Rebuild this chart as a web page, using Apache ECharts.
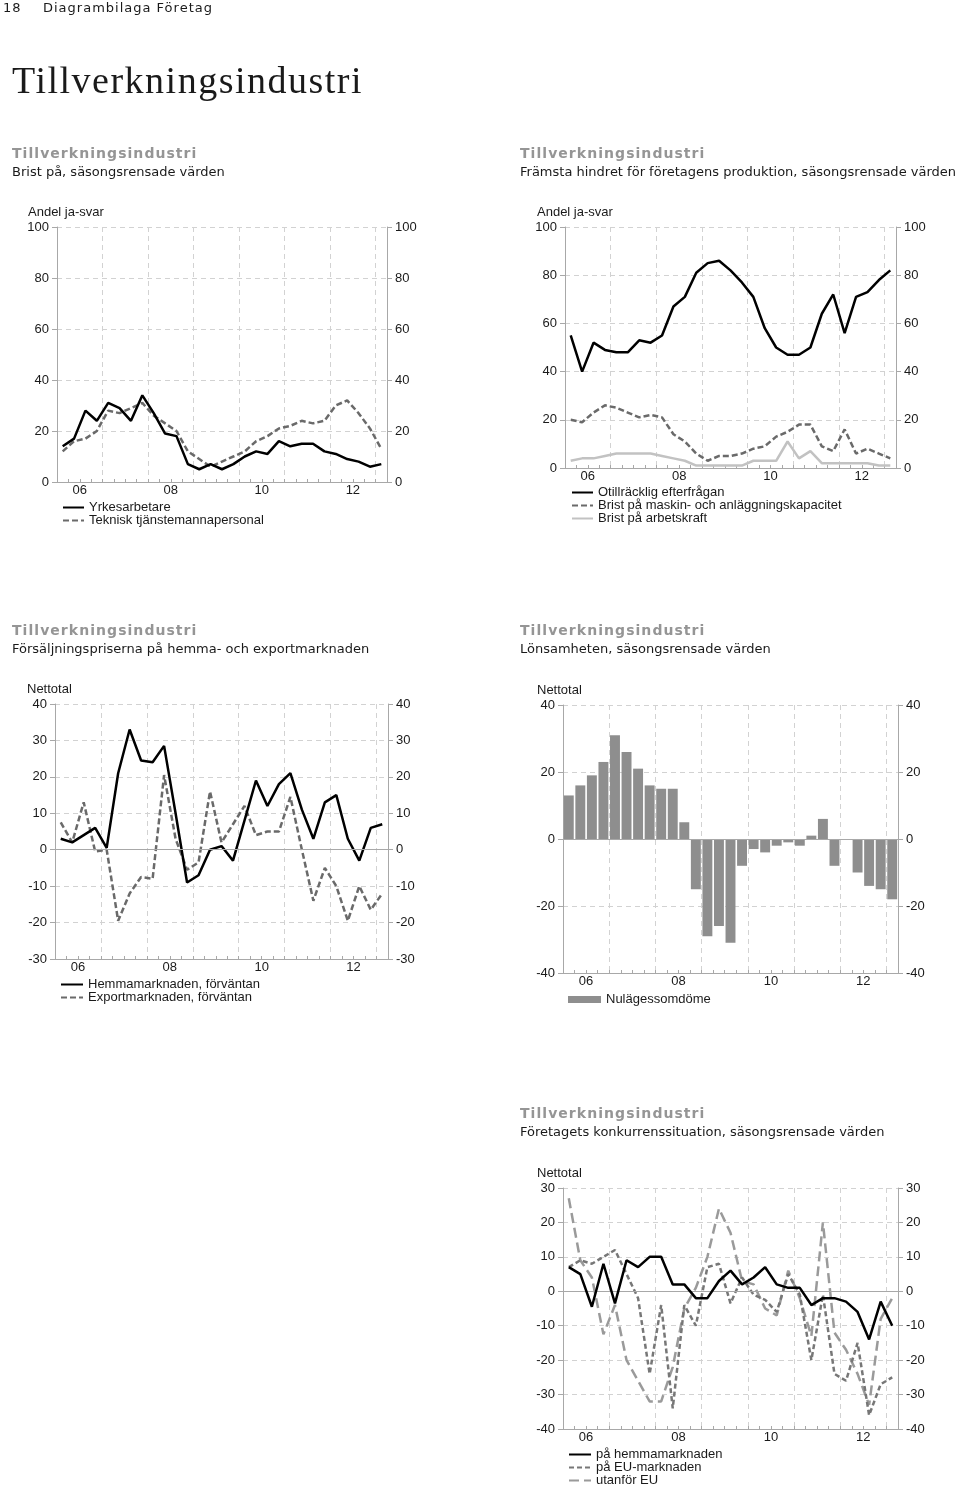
<!DOCTYPE html>
<html><head><meta charset="utf-8">
<script src="https://cdn.jsdelivr.net/npm/echarts@6/dist/echarts.min.js"></script>
<style>
html,body{margin:0;padding:0;background:#fff;width:960px;height:1490px;overflow:hidden}
#c{position:absolute;left:0;top:0;width:960px;height:1490px}
.t{position:absolute;white-space:nowrap;font-family:"DejaVu Sans",sans-serif;line-height:13px;font-size:13px;color:#1a1a1a;z-index:2}
.big{font-family:"Liberation Serif",serif;font-size:38px;line-height:38px;letter-spacing:1.5px;color:#1a1a1a}
.st{font-weight:bold;font-size:14px;line-height:14px;color:#959595;letter-spacing:1.05px}
.hd{letter-spacing:1px}
</style></head><body>
<div id="c"></div>
<div class="t hd" style="left:3px;top:1px">18</div>
<div class="t hd" style="left:43px;top:1px">Diagrambilaga Företag</div>
<div class="t big" style="left:12px;top:61px">Tillverkningsindustri</div>
<div class="t st" style="left:12px;top:146px">Tillverkningsindustri</div>
<div class="t" style="left:12px;top:165px">Brist på, säsongsrensade värden</div>
<div class="t st" style="left:520px;top:146px">Tillverkningsindustri</div>
<div class="t" style="left:520px;top:165px">Främsta hindret för företagens produktion, säsongsrensade värden</div>
<div class="t st" style="left:12px;top:623px">Tillverkningsindustri</div>
<div class="t" style="left:12px;top:642px">Försäljningspriserna på hemma- och exportmarknaden</div>
<div class="t st" style="left:520px;top:623px">Tillverkningsindustri</div>
<div class="t" style="left:520px;top:642px">Lönsamheten, säsongsrensade värden</div>
<div class="t st" style="left:520px;top:1106px">Tillverkningsindustri</div>
<div class="t" style="left:520px;top:1125px">Företagets konkurrenssituation, säsongsrensade värden</div>
<script>
// ---------- DATA ----------
const quarters = ['06K1','06K2','06K3','06K4','07K1','07K2','07K3','07K4','08K1','08K2','08K3','08K4',
  '09K1','09K2','09K3','09K4','10K1','10K2','10K3','10K4','11K1','11K2','11K3','11K4',
  '12K1','12K2','12K3','12K4','13K1'];
const yearTickLabels = ['06','08','10','12'];

// Chart 1: Brist på
const yrkesarbetare = [14,17,28,24,31,29,24,34,27,19,18,7,5,7,5,7,10,12,11,16,14,15,15,12,11,9,8,6,7];
const tekniskPersonal = [12,16,17,20,28,27,29,31,26,23,20,12,9,6,8,10,12,16,18,21,22,24,23,24,30,32,27,21,13];

// Chart 2: Främsta hindret
const otillrackligEfterfragan = [55,40,52,49,48,48,53,52,55,67,71,81,85,86,82,77,71,58,50,47,47,50,64,72,56,71,73,78,82];
const bristMaskin = [20,19,23,26,25,23,21,22,21,14,11,6,3,5,5,6,8,9,13,15,18,18,9,7,16,6,8,6,4];
const bristArbetskraft = [3,4,4,5,6,6,6,6,5,4,3,1,1,1,1,1,3,3,3,11,4,7,2,2,2,2,2,1,1];

// Chart 3: Försäljningspriser
const hemmaForvantan = [3,2,4,6,0.5,21,33,24.5,24,28.5,10,-9,-7,0,1,-3,8,19,12,18,21,11,3,13,15,3,-3,6,7];
const exportForvantan = [7.5,2,13,-0.5,0,-19.5,-12,-7.5,-8,20.5,3,-5.5,-3.5,16,2,7,12,4,5,5,14.5,0,-14,-5,-10,-19.5,-10,-16.5,-12];

// Chart 4: Lönsamheten
const nulagesomdome = [13,16,19,23,31,26,21,16,15,15,5,-15,-29,-26,-31,-8,-3,-4,-2,-1,-2,1,6,-8,0,-10,-14,-15,-18];

// Chart 5: Konkurrenssituation
const konkHemma = [7,5,-4.5,8,-3.5,9,7,10,10,2,2,-2,-2,3,6,2,4,7,2,1,1,-4,-2,-2,-3,-6,-14,-3,-10];
const konkEU = [7,9,8,10,12,5,-2,-24,-4,-34,-4,-10,7,8,-3.5,4,-1,-2.5,-6,5,-1,-20,-1,-24,-26,-15,-36,-27,-25];
const konkUtanforEU = [27,9,4,-12.5,-4,-20,-26,-32,-32,-22,-5,1,10,24,17,3,2,-5,-7,6,-2,-13,20,-12,-17,-24,-33,-8,-2];

// ---------- CHART ----------
const FONT = 'Liberation Sans';
const AX = '#a8a8a8', GRIDC = '#d2d2d2', TXT = '#1a1a1a';
const chart = echarts.init(document.getElementById('c'), null, {renderer:'canvas'});

const grids = [
  {left:57, top:227, width:330, height:255},
  {left:565, top:227, width:331, height:241},
  {left:55, top:704, width:333, height:255},
  {left:563, top:705, width:335, height:268},
  {left:563, top:1188, width:335, height:241}
];
const yScales = [[0,100,20],[0,100,20],[-30,40,10],[-40,40,20],[-40,30,10]];

const xAxis = [], yAxis = [];
grids.forEach((g,i)=>{
  xAxis.push({
    type:'category', gridIndex:i, data:quarters, boundaryGap:true,
    axisLine:{onZero:false, lineStyle:{color:AX,width:1}},
    axisTick:{show:true, inside:true, length:3, interval:0, lineStyle:{color:AX}},
    axisLabel:{show:false},
    splitLine:{show:true, interval:(idx)=> idx>0 && idx%4===0, lineStyle:{color:GRIDC,type:[5,4],width:1}}
  });
  xAxis.push({
    type:'value', gridIndex:i, min:0, max:29, interval:2, position:'bottom',
    axisLine:{show:false}, axisTick:{show:false}, splitLine:{show:false},
    axisLabel:{margin:2, fontSize:13, fontFamily:FONT, color:TXT, showMaxLabel:false,
      formatter:(v)=>{const k=(v-2)/8; return (Number.isInteger(k)&&k>=0&&k<yearTickLabels.length)?yearTickLabels[k]:'';}}
  });
  const [mn,mx,iv] = yScales[i];
  const base = {type:'value', gridIndex:i, min:mn, max:mx, interval:iv,
    axisLine:{show:true, lineStyle:{color:AX}},
    axisTick:{show:true, length:5, lineStyle:{color:AX}},
    axisLabel:{margin:8, fontSize:13, fontFamily:FONT, color:TXT}};
  yAxis.push(Object.assign({}, base, {position:'left', splitLine:{show:true, lineStyle:{color:GRIDC,type:[5,4],width:1}}}));
  yAxis.push(Object.assign({}, base, {position:'right', splitLine:{show:false}}));
});

function line(name, data, g, color, type, width, z){
  return {name, type:'line', data, xAxisIndex:2*g, yAxisIndex:2*g, symbol:'none', showSymbol:false,
    lineStyle:{color, width, type}, itemStyle:{color}, z:z||2, animation:false};
}
const zeroLine = {silent:true, symbol:'none', label:{show:false}, animation:false,
  lineStyle:{color:'#a8a8a8', type:'solid', width:1}, data:[{yAxis:0}]};

const s3a = line('Hemmamarknaden, förväntan', hemmaForvantan, 2, '#000', 'solid', 2.5, 4);
const s3b = line('Exportmarknaden, förväntan', exportForvantan, 2, '#6a6a6a', [6,3], 2.5, 3);
s3b.markLine = zeroLine;
const s5a = line('på hemmamarknaden', konkHemma, 4, '#000', 'solid', 2.5, 5);
const s5b = line('på EU-marknaden', konkEU, 4, '#777', [5,3], 2.5, 4);
const s5c = line('utanför EU', konkUtanforEU, 4, '#9a9a9a', [10,5], 2.5, 3);
s5c.markLine = zeroLine;

const series = [
  line('Teknisk tjänstemannapersonal', tekniskPersonal, 0, '#6a6a6a', [6,3], 2.5, 3),
  line('Yrkesarbetare', yrkesarbetare, 0, '#000', 'solid', 2.5, 4),
  line('Brist på arbetskraft', bristArbetskraft, 1, '#c2c2c2', 'solid', 2.5, 2),
  line('Brist på maskin- och anläggningskapacitet', bristMaskin, 1, '#6a6a6a', [6,3], 2.5, 3),
  line('Otillräcklig efterfrågan', otillrackligEfterfragan, 1, '#000', 'solid', 2.5, 4),
  s3b, s3a,
  {name:'Nulägessomdöme', type:'bar', data:nulagesomdome, xAxisIndex:6, yAxisIndex:6,
   barCategoryGap:'14%', itemStyle:{color:'#8e8e8e'}, animation:false, markLine:zeroLine},
  s5c, s5b, s5a
];

const legTxt = {fontSize:13, fontFamily:FONT, color:TXT};
function leg(data, left, top, w, h, isBar){
  const o = {data, orient:'vertical', left, top, itemWidth:w, itemHeight:h||14, itemGap:0,
    textStyle:legTxt, selectedMode:false, padding:0};
  if(isBar){ o.icon = 'rect'; }
  else { o.itemStyle = {opacity:0, borderWidth:0}; }
  return o;
}
const legend = [
  leg(['Yrkesarbetare','Teknisk tjänstemannapersonal'], 62, 501, 21),
  leg(['Otillräcklig efterfrågan','Brist på maskin- och anläggningskapacitet','Brist på arbetskraft'], 571, 486, 21),
  leg(['Hemmamarknaden, förväntan','Exportmarknaden, förväntan'], 60, 978, 22),
  leg(['Nulägessomdöme'], 568, 993, 33, 7, true),
  leg(['på hemmamarknaden','på EU-marknaden','utanför EU'], 568, 1448, 22)
];

const unitFont = '13px "Liberation Sans"';
const graphic = [
  {type:'text', left:28, top:206, style:{text:'Andel ja-svar', font:unitFont, fill:TXT}},
  {type:'text', left:537, top:206, style:{text:'Andel ja-svar', font:unitFont, fill:TXT}},
  {type:'text', left:27, top:683, style:{text:'Nettotal', font:unitFont, fill:TXT}},
  {type:'text', left:537, top:684, style:{text:'Nettotal', font:unitFont, fill:TXT}},
  {type:'text', left:537, top:1167, style:{text:'Nettotal', font:unitFont, fill:TXT}}
];

chart.setOption({animation:false, backgroundColor:'#fff', grid:grids, xAxis, yAxis, series, legend, graphic});
</script>
</body></html>
